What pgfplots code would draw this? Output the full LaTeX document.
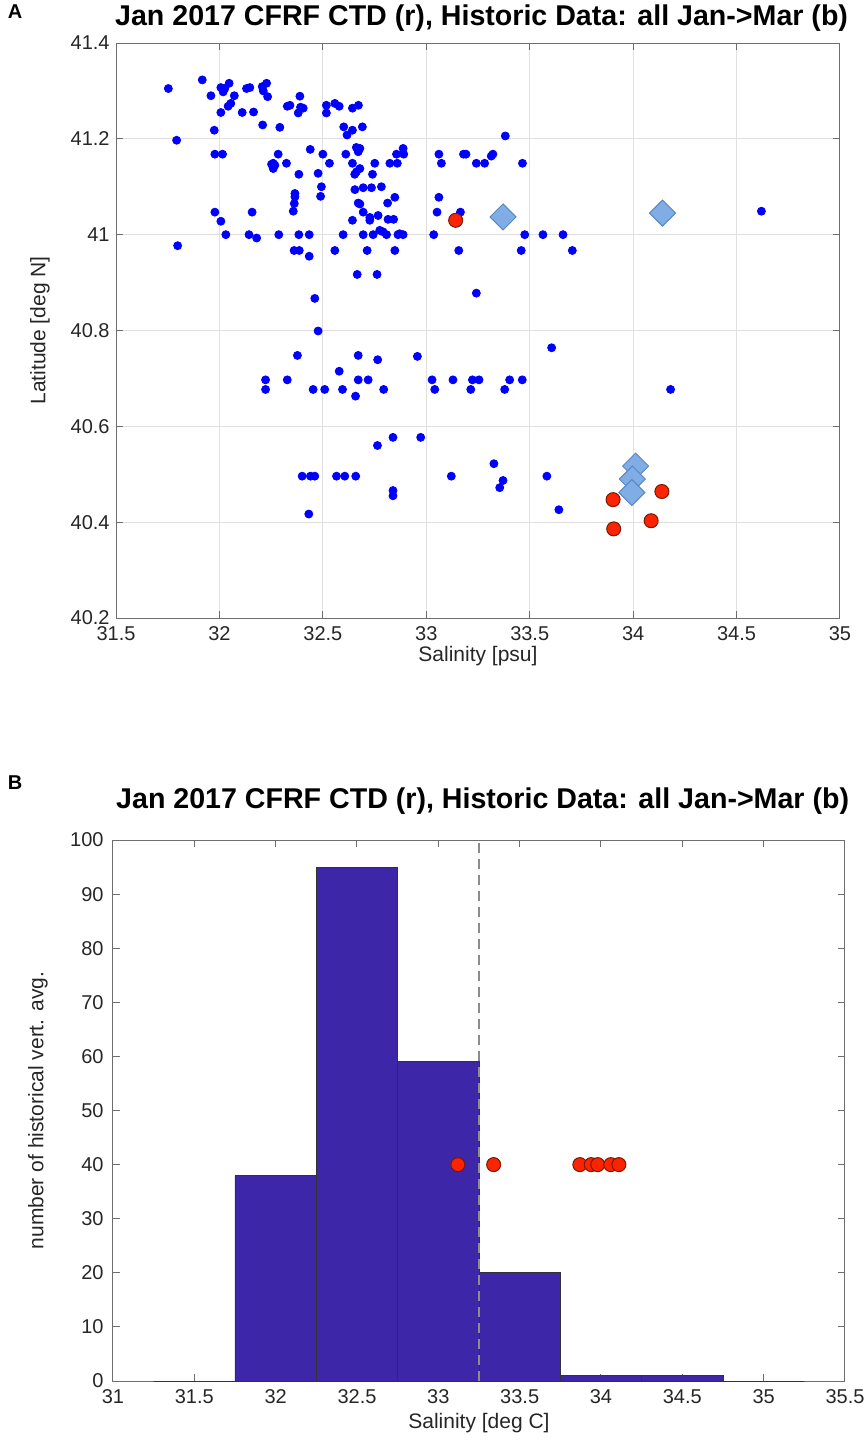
\documentclass[border=0pt]{standalone}
\usepackage{fontspec}
\setmainfont{Liberation Sans}
\setsansfont{Liberation Sans}
\usepackage{pgfplots}
\usepackage{pgfplotstable}
\pgfplotsset{compat=1.18}

\definecolor{histblue}{RGB}{62,38,168}
\definecolor{ctdred}{RGB}{252,35,0}
\definecolor{ctdedge}{RGB}{120,25,0}
\definecolor{diafill}{RGB}{128,174,228}
\definecolor{diaedge}{RGB}{88,135,195}
\definecolor{axgray}{RGB}{110,110,110}
\definecolor{txtgray}{RGB}{38,38,38}

% historic casts: salinity, latitude
\pgfplotstableread{
sal lat
31.753 41.305
31.917 41.323
31.959 41.290
32.007 41.307
32.026 41.305
32.047 41.316
32.018 41.298
32.072 41.290
32.042 41.268
32.055 41.274
32.007 41.255
32.110 41.255
32.165 41.256
32.131 41.305
32.147 41.307
31.975 41.218
31.793 41.197
31.978 41.168
32.015 41.168
31.978 41.047
32.007 41.028
32.158 41.047
32.207 41.309
32.228 41.316
32.212 41.300
32.233 41.288
32.328 41.268
32.341 41.270
32.389 41.289
32.381 41.254
32.392 41.266
32.405 41.264
32.517 41.270
32.517 41.254
32.558 41.274
32.579 41.268
32.643 41.264
32.672 41.270
32.209 41.229
32.292 41.224
32.601 41.225
32.643 41.218
32.617 41.208
32.691 41.225
32.284 41.168
32.260 41.149
32.252 41.147
32.268 41.145
32.260 41.138
32.324 41.149
32.439 41.178
32.500 41.168
32.532 41.149
32.384 41.126
32.477 41.128
32.493 41.100
32.489 41.080
32.365 41.086
32.365 41.079
32.362 41.065
32.357 41.049
32.611 41.168
32.662 41.182
32.679 41.180
32.671 41.173
32.643 41.149
32.679 41.138
32.662 41.131
32.654 41.126
32.751 41.149
32.740 41.126
32.824 41.149
32.860 41.149
32.856 41.168
32.888 41.180
32.891 41.168
32.655 41.094
32.695 41.098
32.735 41.098
32.783 41.100
32.671 41.066
32.679 41.064
32.848 41.078
32.813 41.066
32.695 41.047
32.727 41.036
32.767 41.040
32.727 41.030
32.643 41.030
32.815 41.032
32.842 41.032
33.061 41.168
33.073 41.149
33.061 41.078
33.052 41.047
33.180 41.168
33.192 41.168
33.322 41.168
33.314 41.164
33.242 41.149
33.282 41.149
33.465 41.149
33.382 41.206
33.165 41.047
32.031 41.000
32.143 41.000
32.180 40.993
32.287 41.000
32.384 41.000
32.434 41.000
32.598 41.000
32.695 41.000
32.743 41.000
32.775 41.009
32.791 41.006
32.808 41.000
32.863 41.000
32.871 41.002
32.888 41.000
33.036 41.000
33.476 41.000
33.564 41.000
33.661 41.000
31.798 40.977
32.361 40.967
32.386 40.967
32.434 40.955
32.558 40.967
32.666 40.917
32.461 40.867
32.477 40.799
32.377 40.748
32.579 40.715
32.671 40.748
32.223 40.697
32.223 40.677
32.328 40.697
32.453 40.677
32.509 40.677
32.595 40.677
32.658 40.663
32.671 40.697
32.714 40.967
32.848 40.967
33.157 40.967
33.459 40.967
33.706 40.967
32.762 40.917
33.242 40.878
33.606 40.764
32.765 40.739
32.957 40.746
32.719 40.697
32.794 40.677
33.028 40.697
33.129 40.697
33.223 40.697
33.255 40.697
33.403 40.697
33.464 40.697
33.041 40.677
33.215 40.677
33.379 40.677
34.181 40.677
32.400 40.496
32.440 40.496
32.461 40.496
32.566 40.496
32.606 40.496
32.432 40.417
32.659 40.496
32.764 40.560
32.839 40.577
32.973 40.577
33.121 40.496
33.327 40.522
33.371 40.487
33.355 40.472
33.583 40.496
33.641 40.426
32.839 40.466
32.839 40.455
34.620 41.049
}\historic

\pgfplotsset{
  matlab/.style={
    scale only axis,
    axis line style={axgray, line width=0.5pt},
    tick style={axgray, line width=0.5pt},
    major tick length=3.5pt,
    tick align=inside,
    xtick pos=both, ytick pos=both,
    tick label style={font=\fontsize{10}{12}\selectfont, text=txtgray, inner sep=1pt},
    xticklabel style={yshift=-3pt},
    yticklabel style={xshift=-2pt},
    label style={font=\fontsize{10.5}{12}\selectfont, text=txtgray, inner sep=1pt},
    title style={font=\bfseries\fontsize{14.3}{16}\selectfont, anchor=center},
    /pgf/number format/assume math mode=true,
    /pgf/number format/fixed,
    /pgf/number format/precision=1,
  }
}

\begin{document}
\begin{tikzpicture}
\path[use as bounding box] (0,0) rectangle (432.5pt,-726pt);

\node[font=\bfseries\fontsize{10}{12}\selectfont] at (7.5pt,-6pt) {A};
\node[font=\bfseries\fontsize{10}{12}\selectfont] at (7.5pt,-391.5pt) {B};

% panel A
\begin{axis}[
    matlab,
    at={(58pt,-309pt)}, anchor=south west,
    width=362pt, height=287.5pt,
    xmin=31.5, xmax=35,
    ymin=40.2, ymax=41.4,
    xtick={31.5,32,32.5,33,33.5,34,34.5,35},
    ytick={40.2,40.4,40.6,40.8,41,41.2,41.4},
    grid=major,
    major grid style={black!12, line width=0.5pt},
    title={Jan 2017 CFRF CTD (r), Historic Data: all Jan->Mar (b)},
    title style={at={(axis description cs:0.505,1.0226)}},
    xlabel={Salinity [psu]},
    xlabel style={at={(axis description cs:0.5,-0.067)}, anchor=center},
    ylabel={Latitude [deg N]},
    ylabel style={at={(axis description cs:-0.105,0.5)}, anchor=center},
]
\addplot[only marks, mark=*, mark size=2pt, color=blue] table[x=sal, y=lat] {\historic};
\addplot[only marks, mark=square*, mark size=4.6pt,
    mark options={rotate=45, fill=diafill, draw=diaedge, line width=0.5pt}]
    coordinates {(33.371,41.037)(34.142,41.045)(34.012,40.517)(33.996,40.490)(33.994,40.462)};
\addplot[only marks, mark=*, mark size=3.5pt,
    mark options={fill=ctdred, draw=ctdedge, line width=0.5pt}]
    coordinates {(33.142,41.030)(33.903,40.447)(33.906,40.386)(34.087,40.403)(34.139,40.464)};
\end{axis}

% panel B
\begin{axis}[
    matlab,
    at={(56.5pt,-690.5pt)}, anchor=south west,
    width=366pt, height=270.5pt,
    xmin=31, xmax=35.5,
    ymin=0, ymax=100,
    xtick={31,31.5,32,32.5,33,33.5,34,34.5,35,35.5},
    ytick={0,10,20,30,40,50,60,70,80,90,100},
    yticklabel style={xshift=-1.5pt},
    title={Jan 2017 CFRF CTD (r), Historic Data: all Jan->Mar (b)},
    title style={at={(axis description cs:0.505,1.05)}},
    xlabel={Salinity [deg C]},
    xlabel style={at={(axis description cs:0.5,-0.077)}, anchor=center},
    ylabel={number of historical vert. avg.},
    ylabel style={at={(axis description cs:-0.1025,0.5)}, anchor=center},
]
\addplot[ybar interval, fill=histblue, draw=black!80, line width=0.4pt]
    coordinates {(31.25,0)(31.75,38)(32.25,95)(32.75,59)(33.25,20)(33.75,1)(34.25,1)(34.75,0)(35.25,0)};
\addplot[black!45, line width=0.7pt, dash pattern=on 5pt off 3pt]
    coordinates {(33.25,0)(33.25,100)};
\addplot[only marks, mark=*, mark size=3.5pt,
    mark options={fill=ctdred, draw=ctdedge, line width=0.5pt}]
    coordinates {(33.12,40)(33.34,40)(33.87,40)(33.94,40)(33.98,40)(34.06,40)(34.11,40)};
\end{axis}
\end{tikzpicture}
\end{document}
